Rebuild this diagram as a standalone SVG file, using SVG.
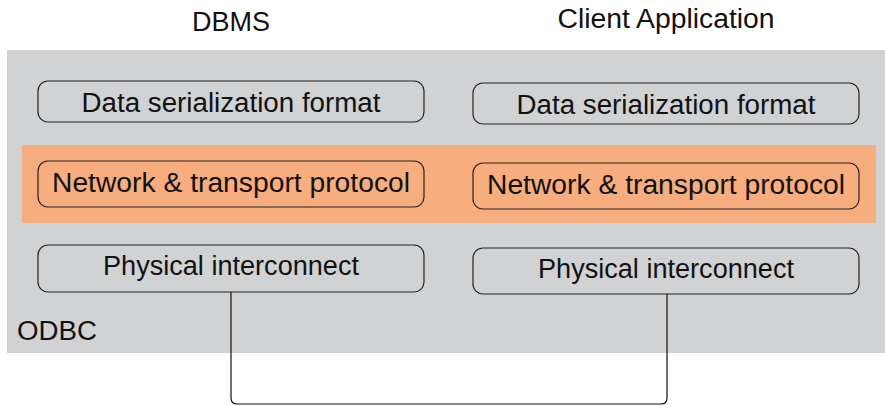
<svg xmlns="http://www.w3.org/2000/svg" width="885" height="406" viewBox="0 0 885 406">
<style>
.t{font-family:"Liberation Sans","DejaVu Sans",sans-serif;font-size:27px;fill:#111;text-anchor:middle}
.box{fill:none;stroke:#222;stroke-width:1.2}
.conn{fill:none;stroke:#111;stroke-width:1.2}
</style>
<rect width="885" height="406" fill="#fff"/>
<g id="odbc">
<rect x="7" y="50" width="878" height="303" fill="#d1d2d4"/>
<text class="t" x="17" y="340" style="text-anchor:start" textLength="80" lengthAdjust="spacingAndGlyphs">ODBC</text>
</g>
<rect id="band" x="22" y="145" width="854" height="78" fill="#f7ad7e"/>
<g id="title-dbms"><text class="t" x="231" y="31" textLength="78" lengthAdjust="spacingAndGlyphs">DBMS</text></g>
<g id="title-client"><text class="t" x="666" y="28" textLength="217" lengthAdjust="spacingAndGlyphs">Client Application</text></g>
<g id="dbms-data"><rect class="box" x="38" y="81" width="386" height="41" rx="10"/><text class="t" x="231" y="112" textLength="299" lengthAdjust="spacingAndGlyphs">Data serialization format</text></g>
<g id="client-data"><rect class="box" x="473" y="83" width="386" height="41" rx="10"/><text class="t" x="666" y="114" textLength="299" lengthAdjust="spacingAndGlyphs">Data serialization format</text></g>
<g id="dbms-net"><rect class="box" x="38" y="161" width="386" height="46" rx="10"/><text class="t" x="231" y="192" textLength="358" lengthAdjust="spacingAndGlyphs">Network &amp; transport protocol</text></g>
<g id="client-net"><rect class="box" x="473" y="163" width="386" height="46" rx="10"/><text class="t" x="666" y="194" textLength="358" lengthAdjust="spacingAndGlyphs">Network &amp; transport protocol</text></g>
<g id="dbms-phys"><rect class="box" x="38" y="245" width="386" height="47" rx="10"/><text class="t" x="231" y="275" textLength="256" lengthAdjust="spacingAndGlyphs">Physical interconnect</text></g>
<g id="client-phys"><rect class="box" x="473" y="248" width="386" height="46" rx="10"/><text class="t" x="666" y="278" textLength="256" lengthAdjust="spacingAndGlyphs">Physical interconnect</text></g>
<g id="connectors">
<path class="conn" d="M231 292 V398 Q231 404 237 404 H661 Q667 404 667 398 V294"/>
</g>
</svg>
